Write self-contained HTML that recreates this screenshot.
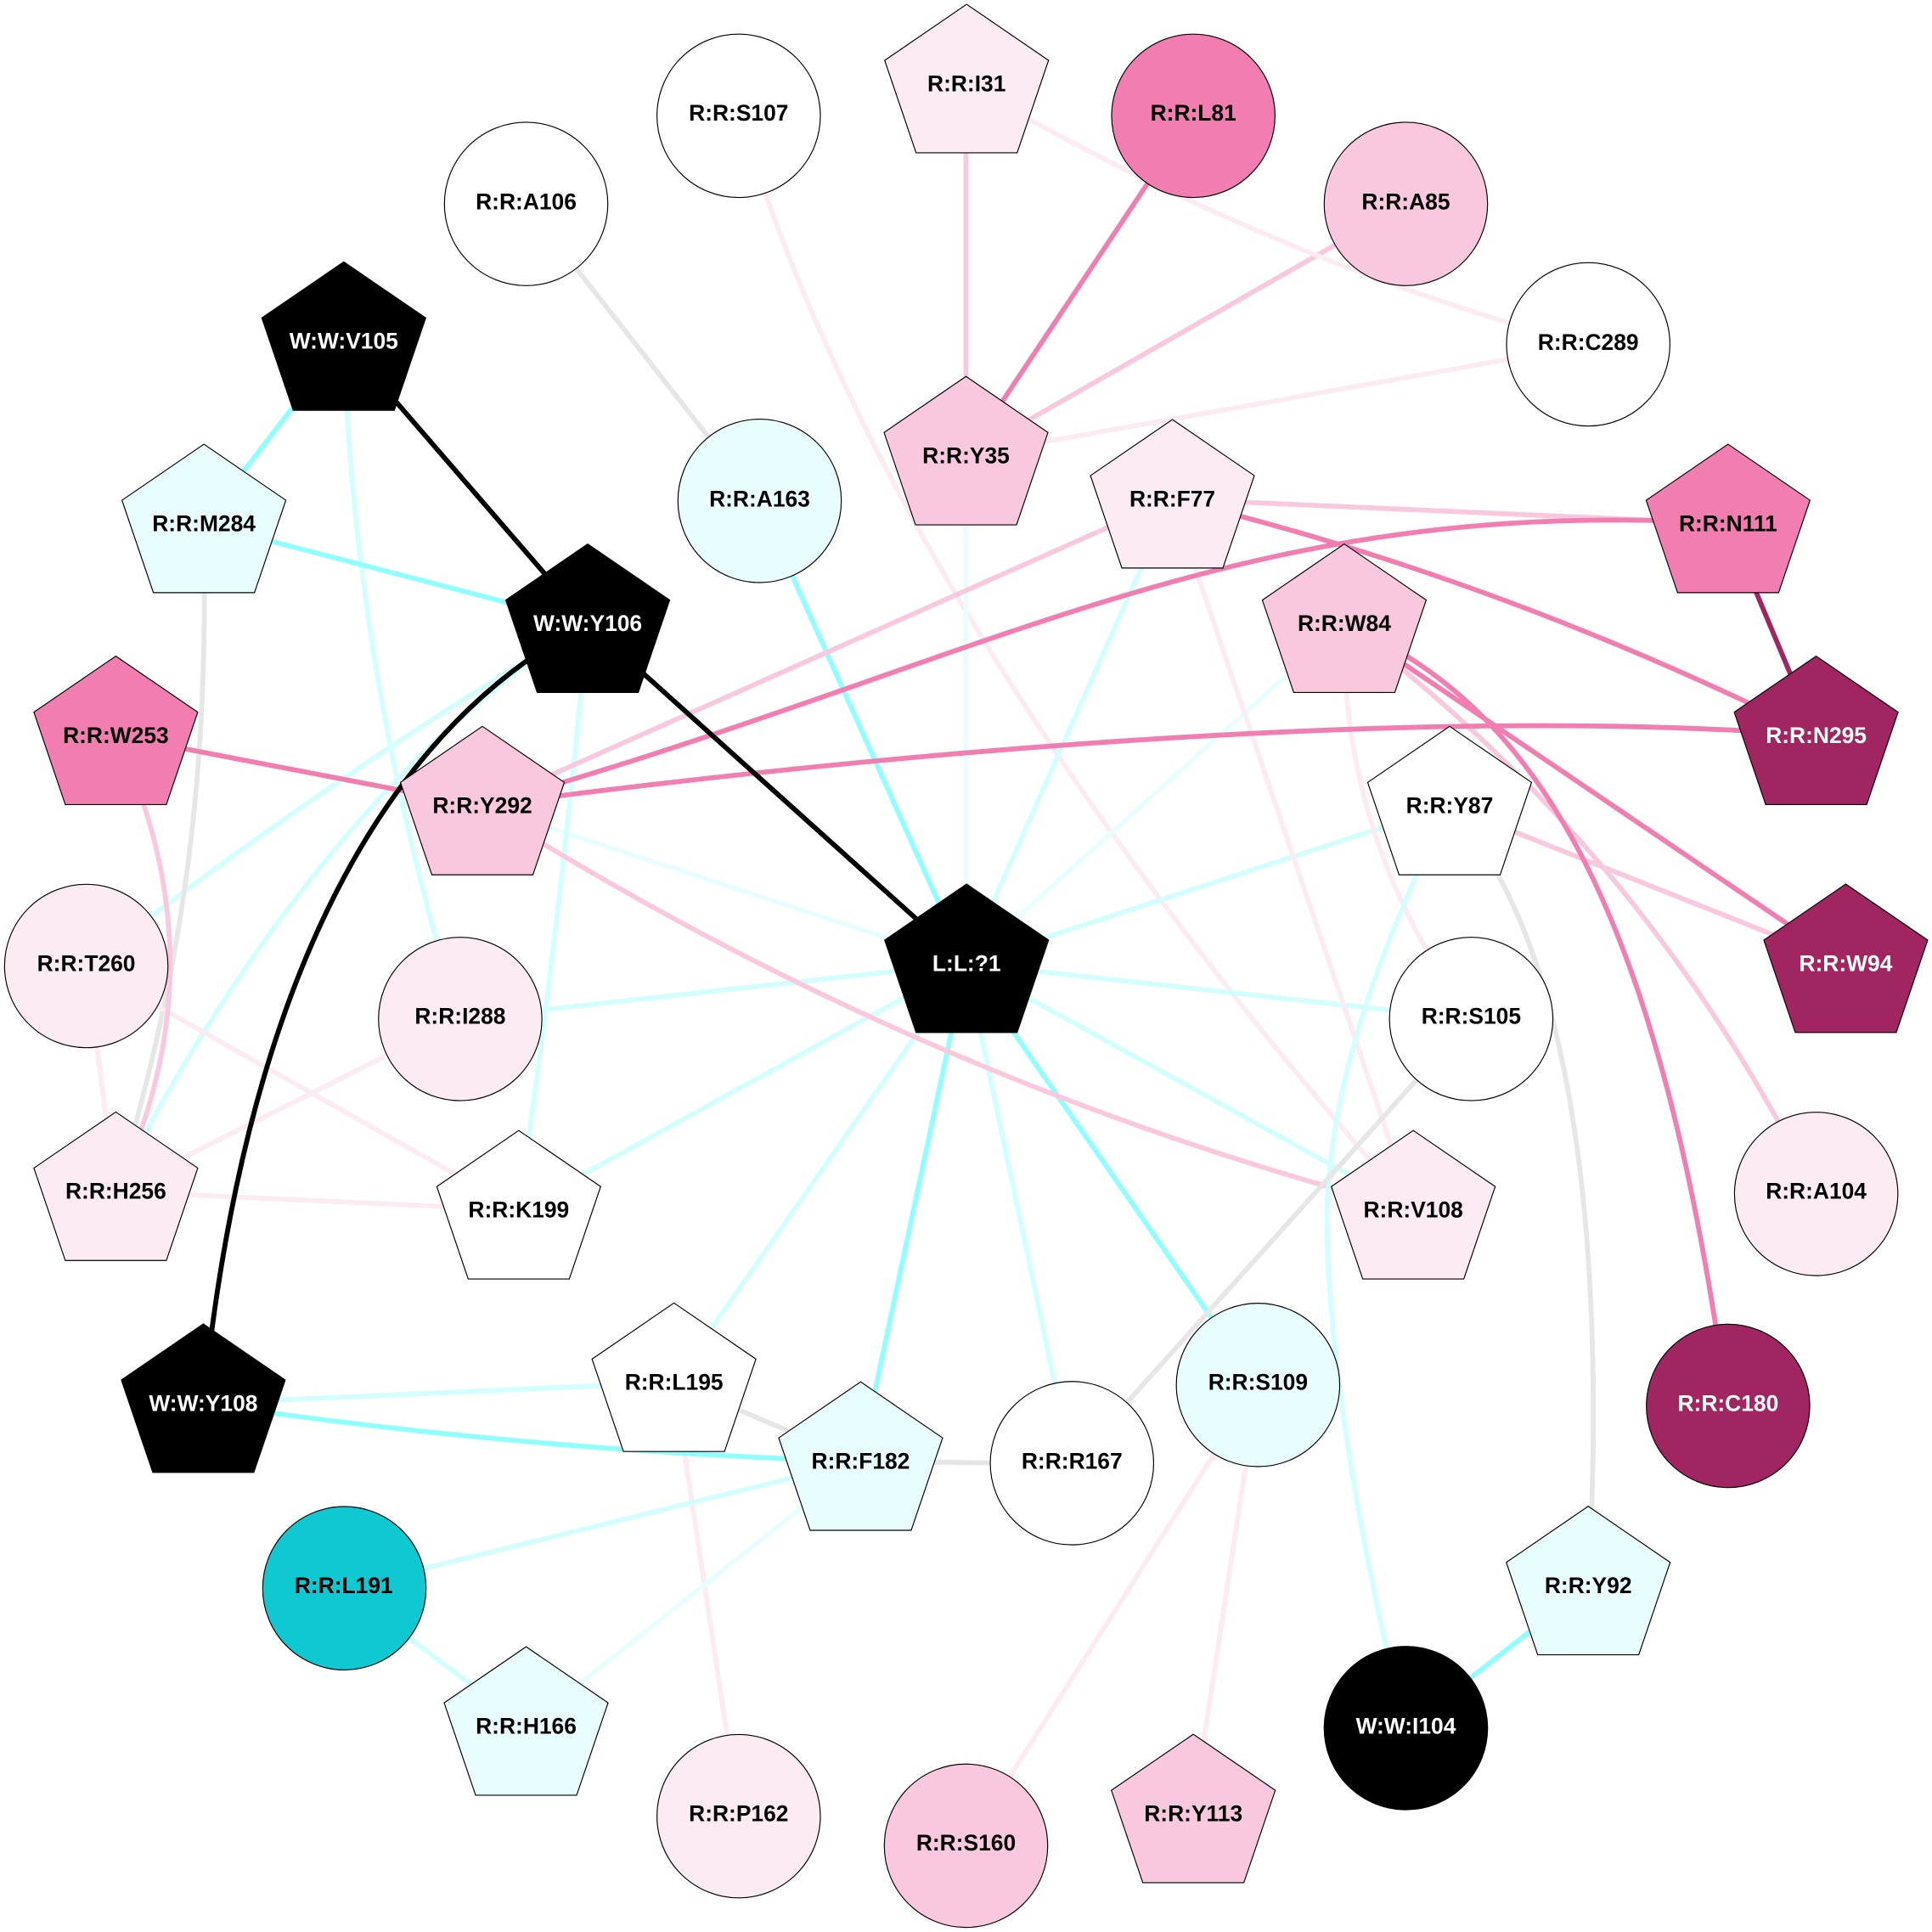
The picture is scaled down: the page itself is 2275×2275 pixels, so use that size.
<!DOCTYPE html>
<html><head><meta charset="utf-8"><style>html,body{margin:0;padding:0;background:#fff}svg{display:block}text{font-family:"Liberation Sans",Arial,sans-serif;font-weight:bold;font-size:18.2px;text-anchor:middle;fill:#000}.w{fill:#fff}path,line{fill:none;stroke-width:4}.a{stroke:#f27db0}.b{stroke:#f9c8de}.c{stroke:#fcebf3}.d{stroke:#8ffffd}.e{stroke:#d3fefe}.f{stroke:#e8fefe}.g{stroke:#e6e6e6}.k{stroke:#000}.m{stroke:#a02561}polygon,circle{stroke:#000;stroke-width:.8}</style></head><body>
<svg xmlns="http://www.w3.org/2000/svg" width="2275" height="2275" viewBox="0 0 1568 1568">
<rect width="1568" height="1568" fill="#fff"/>
<g>
<line class="b" x1="784" y1="68" x2="784" y2="370"/>
<line class="a" x1="968" y1="94" x2="784" y2="370"/>
<line class="b" x1="1141" y1="166" x2="784" y2="370"/>
<line class="c" x1="1289" y1="280" x2="784" y2="370"/>
<path class="c" d="M784 68Q1036 214 1289 280"/>
<line class="g" x1="427" y1="166" x2="616" y2="407"/>
<path class="c" d="M600 94C670 320 815 605 1147 982"/>
<line class="f" x1="784" y1="370" x2="784" y2="782"/>
<line class="e" x1="951" y1="405" x2="784" y2="782"/>
<line class="f" x1="1091" y1="506" x2="784" y2="782"/>
<line class="e" x1="1176" y1="654" x2="784" y2="782"/>
<line class="e" x1="1194" y1="827" x2="784" y2="782"/>
<line class="e" x1="1147" y1="982" x2="784" y2="782"/>
<line class="e" x1="870" y1="1188" x2="784" y2="782"/>
<line class="e" x1="547" y1="1122" x2="784" y2="782"/>
<line class="e" x1="421" y1="982" x2="784" y2="782"/>
<line class="e" x1="373" y1="827" x2="784" y2="782"/>
<line class="f" x1="391" y1="654" x2="784" y2="782"/>
<line class="d" x1="616" y1="407" x2="784" y2="782"/>
<line class="d" x1="1021" y1="1124" x2="784" y2="782"/>
<line class="d" x1="698" y1="1186" x2="784" y2="782"/>
<path class="e" d="M279 277Q288 552 373 827"/>
<path class="e" d="M477 506Q455 745 421 982"/>
<path class="e" d="M477 506Q269 629 70 784"/>
<path class="e" d="M477 506C320 600 180 790 94 967"/>
<line class="d" x1="279" y1="277" x2="165" y2="425"/>
<line class="d" x1="165" y1="425" x2="477" y2="506"/>
<path class="g" d="M165 425C170 600 155 770 94 967"/>
<line class="c" x1="70" y1="784" x2="94" y2="967"/>
<line class="c" x1="70" y1="784" x2="421" y2="982"/>
<line class="c" x1="373" y1="827" x2="94" y2="967"/>
<line class="c" x1="94" y1="967" x2="421" y2="982"/>
<path class="b" d="M94 597Q182 782 94 967"/>
<line class="a" x1="94" y1="597" x2="391" y2="654"/>
<line class="b" x1="391" y1="654" x2="951" y2="405"/>
<path class="b" d="M391 654Q745 878 1147 982"/>
<line class="c" x1="951" y1="405" x2="1147" y2="982"/>
<line class="b" x1="951" y1="405" x2="1402" y2="425"/>
<path class="b" d="M1091 506Q1337 691 1474 969"/>
<path class="c" d="M1091 506Q1087 680 1194 827"/>
<line class="b" x1="1176" y1="654" x2="1498" y2="782"/>
<path class="e" d="M1176 654C1125 760 1080 870 1077 985C1077 1110 1110 1280 1141 1403"/>
<path class="g" d="M1176 654C1275 760 1305 1000 1289 1287"/>
<line class="g" x1="1194" y1="827" x2="870" y2="1188"/>
<line class="c" x1="1021" y1="1124" x2="784" y2="1498"/>
<line class="c" x1="1021" y1="1124" x2="968" y2="1472"/>
<line class="d" x1="1289" y1="1287" x2="1141" y2="1403"/>
<line class="e" x1="165" y1="1139" x2="547" y2="1122"/>
<line class="g" x1="547" y1="1122" x2="698" y2="1186"/>
<line class="g" x1="698" y1="1186" x2="870" y2="1188"/>
<line class="c" x1="547" y1="1122" x2="600" y2="1474"/>
<line class="e" x1="698" y1="1186" x2="279" y2="1289"/>
<line class="f" x1="698" y1="1186" x2="427" y2="1401"/>
<line class="e" x1="279" y1="1289" x2="427" y2="1401"/>
<path class="d" d="M165 1139Q430 1178 698 1186"/>
<path class="a" d="M391 654C800 540 1000 400 1402 425"/>
<path class="a" d="M391 654C800 600 1200 575 1474 597"/>
<path class="a" d="M951 405Q1212 467 1474 597"/>
<line class="a" x1="1091" y1="506" x2="1498" y2="782"/>
<path class="a" d="M1091 506C1240 570 1345 720 1402 1141"/>
<line class="m" x1="1402" y1="425" x2="1474" y2="597"/>
<line class="k" x1="477" y1="506" x2="784" y2="782"/>
<line class="k" x1="279" y1="277" x2="477" y2="506"/>
<path class="k" d="M477 506C315 590 200 790 165 1139"/>
</g>
<g>
<polygon transform="translate(784.5 68)" fill="#fcebf3" points="0,-64.5 66.5,-19 41,56 -41,56 -66.5,-19"/><text x="784.5" y="74">R:R:I31</text>
<circle cx="968.5" cy="94" r="66.3" fill="#f27db0"/><text x="968.5" y="98">R:R:L81</text>
<circle cx="1141" cy="165.5" r="66.3" fill="#f9c8de"/><text x="1141" y="170">R:R:A85</text>
<circle cx="1289" cy="279.5" r="66.3" fill="#fff"/><text x="1289" y="284">R:R:C289</text>
<circle cx="599.5" cy="94" r="66.3" fill="#fff"/><text x="599.5" y="98">R:R:S107</text>
<circle cx="427" cy="165.5" r="66.3" fill="#fff"/><text x="427" y="170">R:R:A106</text>
<polygon transform="translate(279 277)" fill="#000" points="0,-64.5 66.5,-19 41,56 -41,56 -66.5,-19"/><text class="w" x="279" y="283">W:W:V105</text>
<polygon transform="translate(165.5 425)" fill="#e8fefe" points="0,-64.5 66.5,-19 41,56 -41,56 -66.5,-19"/><text x="165.5" y="431">R:R:M284</text>
<circle cx="616.5" cy="406.5" r="66.3" fill="#e8fefe"/><text x="616.5" y="411">R:R:A163</text>
<polygon transform="translate(784 370)" fill="#f9c8de" points="0,-64.5 66.5,-19 41,56 -41,56 -66.5,-19"/><text x="784" y="376">R:R:Y35</text>
<polygon transform="translate(951.5 405)" fill="#fcebf3" points="0,-64.5 66.5,-19 41,56 -41,56 -66.5,-19"/><text x="951.5" y="411">R:R:F77</text>
<polygon transform="translate(1402.5 425)" fill="#f27db0" points="0,-64.5 66.5,-19 41,56 -41,56 -66.5,-19"/><text x="1402.5" y="431">R:R:N111</text>
<polygon transform="translate(1091 506)" fill="#f9c8de" points="0,-64.5 66.5,-19 41,56 -41,56 -66.5,-19"/><text x="1091" y="512">R:R:W84</text>
<polygon transform="translate(477 506)" fill="#000" points="0,-64.5 66.5,-19 41,56 -41,56 -66.5,-19"/><text class="w" x="477" y="512">W:W:Y106</text>
<polygon transform="translate(94 597)" fill="#f27db0" points="0,-64.5 66.5,-19 41,56 -41,56 -66.5,-19"/><text x="94" y="603">R:R:W253</text>
<polygon transform="translate(1474 597)" fill="#a02561" points="0,-64.5 66.5,-19 41,56 -41,56 -66.5,-19"/><text class="w" x="1474" y="603">R:R:N295</text>
<polygon transform="translate(391.5 654)" fill="#f9c8de" points="0,-64.5 66.5,-19 41,56 -41,56 -66.5,-19"/><text x="391.5" y="660">R:R:Y292</text>
<polygon transform="translate(1176.5 654)" fill="#fff" points="0,-64.5 66.5,-19 41,56 -41,56 -66.5,-19"/><text x="1176.5" y="660">R:R:Y87</text>
<circle cx="70" cy="784" r="66.3" fill="#fcebf3"/><text x="70" y="788">R:R:T260</text>
<polygon transform="translate(784.5 782)" fill="#000" points="0,-64.5 66.5,-19 41,56 -41,56 -66.5,-19"/><text class="w" x="784.5" y="788">L:L:?1</text>
<polygon transform="translate(1498 782)" fill="#a02561" points="0,-64.5 66.5,-19 41,56 -41,56 -66.5,-19"/><text class="w" x="1498" y="788">R:R:W94</text>
<circle cx="373.5" cy="827" r="66.3" fill="#fcebf3"/><text x="373.5" y="831">R:R:I288</text>
<circle cx="1194" cy="827" r="66.3" fill="#fff"/><text x="1194" y="831">R:R:S105</text>
<polygon transform="translate(94 967)" fill="#fcebf3" points="0,-64.5 66.5,-19 41,56 -41,56 -66.5,-19"/><text x="94" y="973">R:R:H256</text>
<polygon transform="translate(421 982)" fill="#fff" points="0,-64.5 66.5,-19 41,56 -41,56 -66.5,-19"/><text x="421" y="988">R:R:K199</text>
<polygon transform="translate(1147 982)" fill="#fcebf3" points="0,-64.5 66.5,-19 41,56 -41,56 -66.5,-19"/><text x="1147" y="988">R:R:V108</text>
<circle cx="1474" cy="969" r="66.3" fill="#fcebf3"/><text x="1474" y="973">R:R:A104</text>
<polygon transform="translate(547 1122)" fill="#fff" points="0,-64.5 66.5,-19 41,56 -41,56 -66.5,-19"/><text x="547" y="1128">R:R:L195</text>
<circle cx="1021" cy="1124" r="66.3" fill="#e8fefe"/><text x="1021" y="1128">R:R:S109</text>
<polygon transform="translate(165 1139)" fill="#000" points="0,-64.5 66.5,-19 41,56 -41,56 -66.5,-19"/><text class="w" x="165" y="1145">W:W:Y108</text>
<circle cx="1402.5" cy="1141" r="66.3" fill="#a02561"/><text class="w" x="1402.5" y="1145">R:R:C180</text>
<polygon transform="translate(698.5 1186)" fill="#e8fefe" points="0,-64.5 66.5,-19 41,56 -41,56 -66.5,-19"/><text x="698.5" y="1192">R:R:F182</text>
<circle cx="870" cy="1187.5" r="66.3" fill="#fff"/><text x="870" y="1192">R:R:R167</text>
<circle cx="279.5" cy="1289" r="66.3" fill="#0ec8d2"/><text x="279" y="1293">R:R:L191</text>
<polygon transform="translate(1289 1287)" fill="#e8fefe" points="0,-64.5 66.5,-19 41,56 -41,56 -66.5,-19"/><text x="1289" y="1293">R:R:Y92</text>
<polygon transform="translate(427 1401)" fill="#e8fefe" points="0,-64.5 66.5,-19 41,56 -41,56 -66.5,-19"/><text x="427" y="1407">R:R:H166</text>
<circle cx="1141" cy="1402.5" r="66.3" fill="#000"/><text class="w" x="1141" y="1407">W:W:I104</text>
<circle cx="599.5" cy="1474" r="66.3" fill="#fcebf3"/><text x="599.5" y="1478">R:R:P162</text>
<circle cx="784" cy="1498" r="66.3" fill="#f9c8de"/><text x="784" y="1502">R:R:S160</text>
<polygon transform="translate(968.5 1472)" fill="#f9c8de" points="0,-64.5 66.5,-19 41,56 -41,56 -66.5,-19"/><text x="968.5" y="1478">R:R:Y113</text>
</g>
</svg>
</body></html>
